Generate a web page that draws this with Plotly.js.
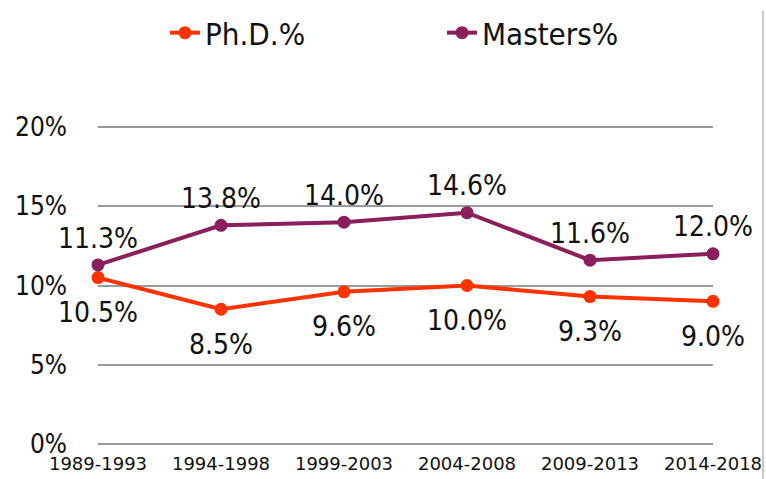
<!DOCTYPE html>
<html>
<head>
<meta charset="utf-8">
<script src="https://cdn.plot.ly/plotly-3.0.1.min.js"></script>
<style>html,body{margin:0;padding:0;background:#fff;}#chart{width:766px;height:479px;}</style>
</head>
<body>
<div id="chart"></div>
<script>
const periods = ["1989-1993","1994-1998","1999-2003","2004-2008","2009-2013","2014-2018"];
const phdPct = [10.5, 8.5, 9.6, 10.0, 9.3, 9.0];
const mastersPct = [11.3, 13.8, 14.0, 14.6, 11.6, 12.0];
const yTickVals = [0, 5, 10, 15, 20];
const yTickText = ["0%", "5%", "10%", "15%", "20%"];

const fam = '"DejaVu Sans Condensed", "DejaVu Sans", sans-serif';
const phdColor = '#FF3300';
const mastersColor = '#8B1E5C';
const fmt = v => v.toFixed(1) + '%';

const traces = [
  {
    x: periods, y: phdPct, name: 'Ph.D.%', type: 'scatter', mode: 'lines+markers',
    line: {color: phdColor, width: 4}, marker: {color: phdColor, size: 13},
    cliponaxis: false, hoverinfo: 'none'
  },
  {
    x: periods, y: mastersPct, name: 'Masters%', type: 'scatter', mode: 'lines+markers',
    line: {color: mastersColor, width: 4}, marker: {color: mastersColor, size: 13},
    cliponaxis: false, hoverinfo: 'none'
  },
  {
    x: periods, y: phdPct, type: 'scatter', mode: 'markers+text', showlegend: false,
    marker: {size: 36, opacity: 0}, text: phdPct.map(fmt), textposition: 'bottom center',
    textfont: {family: fam, size: 28, color: '#111'}, cliponaxis: false, hoverinfo: 'none'
  },
  {
    x: periods, y: mastersPct, type: 'scatter', mode: 'markers+text', showlegend: false,
    marker: {size: 15, opacity: 0}, text: mastersPct.map(fmt), textposition: 'top center',
    textfont: {family: fam, size: 28, color: '#111'}, cliponaxis: false, hoverinfo: 'none'
  }
];

const layout = {
  width: 766, height: 479,
  margin: {l: 98, r: 53, t: 124, b: 32},
  paper_bgcolor: '#fff', plot_bgcolor: '#fff',
  font: {family: fam, color: '#111'},
  showlegend: true,
  legend: {
    orientation: 'h', xref: 'container', yref: 'container',
    x: 165/766, xanchor: 'left', y: 1 - 33/479, yanchor: 'middle',
    font: {family: fam, size: 31, color: '#111'},
    entrywidth: 232, bgcolor: 'rgba(0,0,0,0)'
  },
  xaxis: {
    type: 'category', range: [0, 5], showgrid: false, zeroline: false, showline: false,
    ticks: '', ticklabelstandoff: 4,
    tickfont: {family: '"DejaVu Sans", sans-serif', size: 18, color: '#111'},
    fixedrange: true
  },
  yaxis: {
    range: [-0.2, 20.2], tickmode: 'array', tickvals: yTickVals, ticktext: yTickText,
    showgrid: true, gridcolor: '#9a9a9a', gridwidth: 2, zeroline: false, showline: false,
    ticks: '', ticklabelstandoff: 30,
    tickfont: {family: fam, size: 26, color: '#111'}, fixedrange: true
  },
  shapes: [
    {type: 'line', xref: 'paper', yref: 'paper', x0: 1.0813, x1: 1.0813, y0: -0.1, y1: 1.35,
     line: {color: '#c8c8c8', width: 2}}
  ]
};

Plotly.newPlot('chart', traces, layout, {displayModeBar: false, staticPlot: true});
</script>
</body>
</html>
